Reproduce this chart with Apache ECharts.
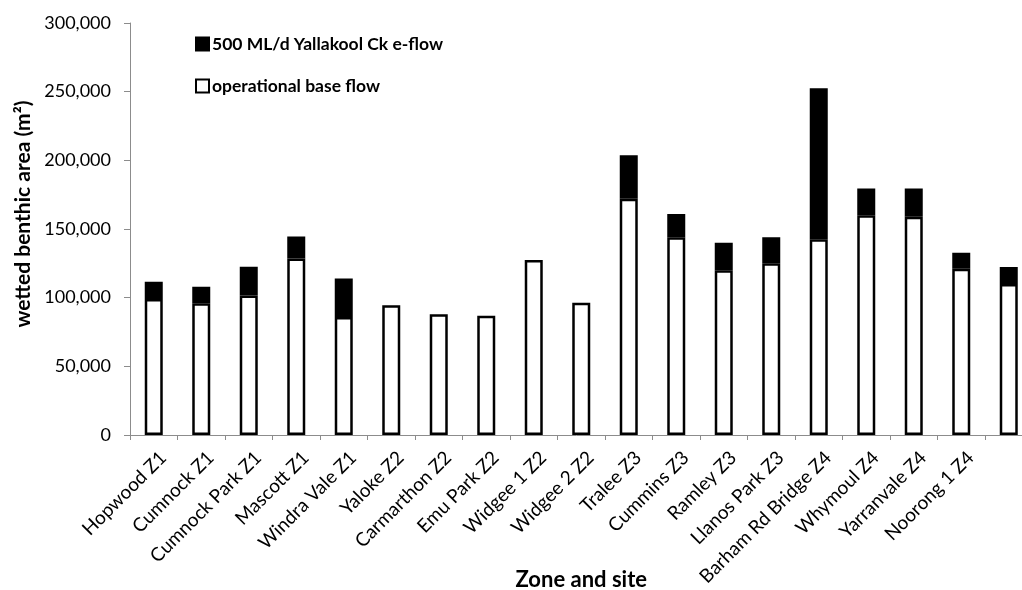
<!DOCTYPE html>
<html>
<head>
<meta charset="utf-8">
<script src="https://cdn.jsdelivr.net/npm/echarts@6/dist/echarts.min.js"></script>
<style>
  html, body { margin: 0; padding: 0; background: #fff; }
  #chart { width: 1022px; height: 590px; }
</style>
</head>
<body>
<div id="chart"></div>
<script>
// Sites along the creek, grouped by zone (last site has no label)
const sites = [
  'Hopwood Z1', 'Cumnock Z1', 'Cumnock Park Z1', 'Mascott Z1', 'Windra Vale Z1',
  'Yaloke Z2', 'Carmarthon Z2', 'Emu Park Z2', 'Widgee 1 Z2', 'Widgee 2 Z2',
  'Tralee Z3', 'Cummins Z3', 'Ramley Z3', 'Llanos Park Z3',
  'Barham Rd Bridge Z4', 'Whymoul Z4', 'Yarranvale Z4', 'Noorong 1 Z4', ''
];

// Wetted benthic area (m²) under the operational base flow
const baseFlow = [
  99000, 96000, 101500, 128500, 86000,
  94500, 88000, 86800, 127500, 96300,
  172000, 144000, 120000, 125000,
  142500, 160000, 159000, 121000, 110000
];

// Total wetted area with the 500 ML/d e-flow
const withEflow = [
  111500, 108000, 122500, 144500, 114000,
  94500, 88000, 86800, 127500, 96300,
  203700, 161000, 140000, 144000,
  252500, 179400, 179500, 132700, 122300
];

// Additional area gained from the e-flow (no segment where there is no gain)
const eflowGain = withEflow.map((t, i) => (t - baseFlow[i]) || null);

const yTicks = { min: 0, max: 300000, interval: 50000 };

const FONT = 'Lato, "Open Sans", sans-serif';
const axisGrey = '#8c8c8c';

const chart = echarts.init(document.getElementById('chart'), null, { renderer: 'canvas' });

chart.setOption({
  animation: false,
  backgroundColor: '#ffffff',
  textStyle: { fontFamily: FONT, color: '#000' },
  grid: { left: 130, top: 23, width: 902.5, height: 412, outerBoundsMode: 'none', containLabel: false },
  legend: {
    orient: 'vertical',
    left: 195,
    top: 35,
    padding: 0,
    itemWidth: 13,
    itemHeight: 13,
    itemGap: 24,
    icon: 'rect',
    textStyle: { fontFamily: FONT, fontSize: 17.5, fontWeight: 'bold', color: '#000', padding: [0, 0, 0, -2] },
    data: ['500 ML/d Yallakool Ck e-flow', 'operational base flow']
  },
  xAxis: {
    type: 'category',
    data: sites,
    name: 'Zone and site',
    nameLocation: 'middle',
    nameGap: 134,
    nameMoveOverlap: false,
    nameTextStyle: { fontFamily: FONT, fontSize: 22, fontWeight: 'bold', color: '#000' },
    axisLine: { show: true, lineStyle: { color: axisGrey, width: 1 } },
    axisTick: { show: true, length: 5, lineStyle: { color: axisGrey } },
    axisLabel: {
      interval: 0, rotate: 45, fontSize: 19, color: '#000', fontFamily: FONT,
      margin: 10, verticalAlign: 'top', padding: [4, 0, 0, 0]
    },
    splitLine: { show: false }
  },
  yAxis: {
    type: 'value',
    min: yTicks.min,
    max: yTicks.max,
    interval: yTicks.interval,
    name: 'wetted benthic area (m²)',
    nameLocation: 'middle',
    nameGap: 96,
    nameMoveOverlap: false,
    nameTextStyle: { fontFamily: FONT, fontSize: 21, fontWeight: 'bold', color: '#000', padding: [0, 0, 0, 30] },
    axisLine: { show: true, lineStyle: { color: axisGrey, width: 1 } },
    axisTick: { show: true, length: 6, lineStyle: { color: axisGrey } },
    axisLabel: {
      fontSize: 18, color: '#000', fontFamily: FONT, margin: 19,
      formatter: v => v.toLocaleString('en-US')
    },
    splitLine: { show: false }
  },
  series: [
    {
      name: 'operational base flow',
      type: 'bar',
      stack: 'area',
      data: baseFlow,
      barWidth: 18,
      itemStyle: { color: '#ffffff', borderColor: '#000', borderWidth: 2.5 }
    },
    {
      name: '500 ML/d Yallakool Ck e-flow',
      type: 'bar',
      stack: 'area',
      data: eflowGain,
      barWidth: 18,
      itemStyle: { color: '#000000', borderColor: '#000', borderWidth: 2.5 }
    }
  ]
});
</script>
</body>
</html>
